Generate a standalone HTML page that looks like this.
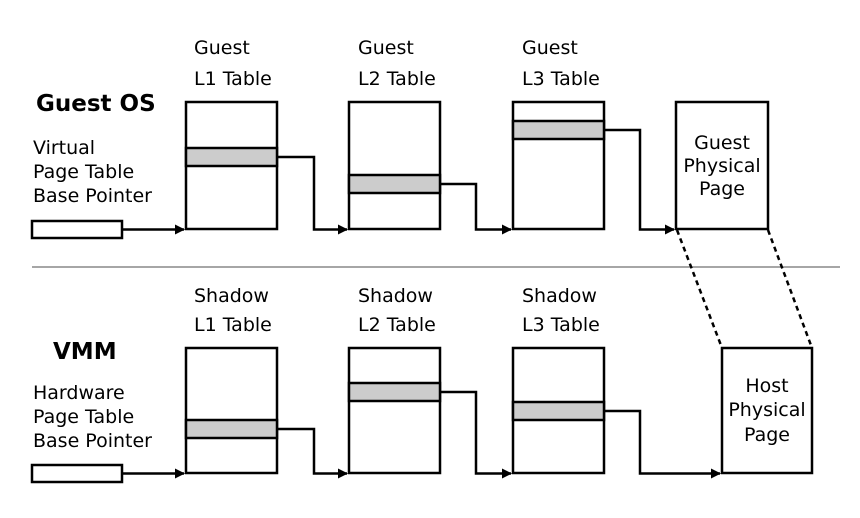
<!DOCTYPE html>
<html><head><style>body{margin:0;background:#fff}svg{display:block}text{font-family:"DejaVu Sans","Liberation Sans",sans-serif;font-size:19px;fill:#000}</style></head><body>
<svg width="860" height="518" viewBox="0 0 860 518" xmlns="http://www.w3.org/2000/svg">
<defs><marker id="a" markerWidth="10" markerHeight="10" refX="9" refY="5" orient="auto" markerUnits="userSpaceOnUse"><path d="M0,0 L10,5 L0,10 z" fill="#000"/></marker></defs>
<line x1="32" y1="267" x2="840" y2="267" stroke="#888" stroke-width="1.5"/>
<g stroke="#000" stroke-width="2.5" fill="none">
<rect x="32" y="221" width="90" height="17"/>
<rect x="186" y="102" width="91" height="127"/>
<rect x="186" y="148" width="91" height="18" fill="#ccc"/>
<rect x="349" y="102" width="91" height="127"/>
<rect x="349" y="175" width="91" height="18" fill="#ccc"/>
<rect x="513" y="102" width="91" height="127"/>
<rect x="513" y="121" width="91" height="18" fill="#ccc"/>
<rect x="676" y="102" width="92" height="127"/>
<path d="M122 229.5H184" marker-end="url(#a)"/>
<path d="M277 157H314V229.5H347" marker-end="url(#a)"/>
<path d="M440 184H476V229.5H511" marker-end="url(#a)"/>
<path d="M604 130H640V229.5H674" marker-end="url(#a)"/>
<path d="M677 230L722 348M768 230L812 348" stroke-dasharray="5,4"/>
<rect x="32" y="465" width="90" height="17"/>
<rect x="186" y="348" width="91" height="125"/>
<rect x="186" y="420" width="91" height="18" fill="#ccc"/>
<rect x="349" y="348" width="91" height="125"/>
<rect x="349" y="383" width="91" height="18" fill="#ccc"/>
<rect x="513" y="348" width="91" height="125"/>
<rect x="513" y="402" width="91" height="18" fill="#ccc"/>
<rect x="722" y="348" width="90" height="125"/>
<path d="M122 473.5H184" marker-end="url(#a)"/>
<path d="M277 429H314V473.5H347" marker-end="url(#a)"/>
<path d="M440 392H476V473.5H511" marker-end="url(#a)"/>
<path d="M604 411H640V473.5H720" marker-end="url(#a)"/>
</g>
<text x="36" y="111" style="font-weight:bold;font-size:23px">Guest OS</text>
<text x="33" y="154">Virtual</text><text x="33" y="178">Page Table</text><text x="33" y="202">Base Pointer</text>
<text x="194" y="54">Guest</text><text x="194" y="85">L1 Table</text>
<text x="358" y="54">Guest</text><text x="358" y="85">L2 Table</text>
<text x="522" y="54">Guest</text><text x="522" y="85">L3 Table</text>
<g text-anchor="middle"><text x="722" y="149">Guest</text><text x="722" y="172">Physical</text><text x="722" y="195">Page</text>
<text x="767" y="392">Host</text><text x="767" y="416">Physical</text><text x="767" y="441">Page</text></g>
<text x="53" y="359" style="font-weight:bold;font-size:23px">VMM</text>
<text x="33" y="399">Hardware</text><text x="33" y="423">Page Table</text><text x="33" y="447">Base Pointer</text>
<text x="194" y="302">Shadow</text><text x="194" y="331">L1 Table</text>
<text x="358" y="302">Shadow</text><text x="358" y="331">L2 Table</text>
<text x="522" y="302">Shadow</text><text x="522" y="331">L3 Table</text>
</svg>
</body></html>
